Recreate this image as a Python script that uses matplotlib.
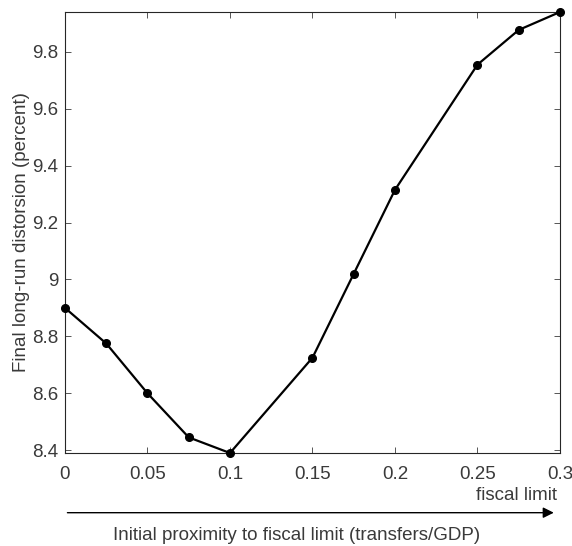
import matplotlib
matplotlib.use("Agg")
import matplotlib.pyplot as plt

plt.rcParams['font.family'] = ['Liberation Sans', 'DejaVu Sans']

proximity = [0, 0.025, 0.05, 0.075, 0.1, 0.15, 0.175, 0.2, 0.25, 0.275, 0.3]
distortion = [8.90, 8.775, 8.60, 8.445, 8.39, 8.725, 9.02, 9.315, 9.755, 9.877, 9.94]

xticks = [0, 0.05, 0.1, 0.15, 0.2, 0.25, 0.3]
xticklabels = ['0', '0.05', '0.1', '0.15', '0.2', '0.25', '0.3']
yticks = [8.4, 8.6, 8.8, 9.0, 9.2, 9.4, 9.6, 9.8]
yticklabels = ['8.4', '8.6', '8.8', '9', '9.2', '9.4', '9.6', '9.8']

fig = plt.figure(figsize=(5.72, 5.46), dpi=100)
ax = fig.add_axes([0.1136, 0.1703, 0.8654, 0.8077])

ax.plot(proximity, distortion, color='black', lw=1.6, marker='o', ms=5.5, clip_on=False, zorder=5)
ax.set_xlim(0, 0.3)
ax.set_ylim(8.39, 9.94)
ax.set_xticks(xticks)
ax.set_xticklabels(xticklabels)
ax.set_yticks(yticks)
ax.set_yticklabels(yticklabels)
ax.tick_params(direction='in', top=True, right=True, labelsize=13.5, colors='#3a3a3a',
               length=4, width=0.6)
ax.tick_params(axis='x', pad=9)
ax.tick_params(axis='y', pad=5)
for s in ax.spines.values():
    s.set_linewidth(0.8)
    s.set_color('#262626')
ax.set_ylabel('Final long-run distorsion (percent)', fontsize=13.5, color='#3a3a3a', labelpad=1)

fig.text(0.974, 0.093, 'fiscal limit', ha='right', va='center', fontsize=13.5, color='#3a3a3a')
ax.annotate('', xy=(0.973, 0.061), xytext=(0.113, 0.061), xycoords='figure fraction',
            textcoords='figure fraction',
            arrowprops=dict(arrowstyle='-|>', color='black', lw=1.0, mutation_scale=16))
fig.text(0.518, 0.02, 'Initial proximity to fiscal limit (transfers/GDP)', ha='center',
         va='center', fontsize=13.5, color='#3a3a3a')

fig.savefig('out.png', dpi=100)
